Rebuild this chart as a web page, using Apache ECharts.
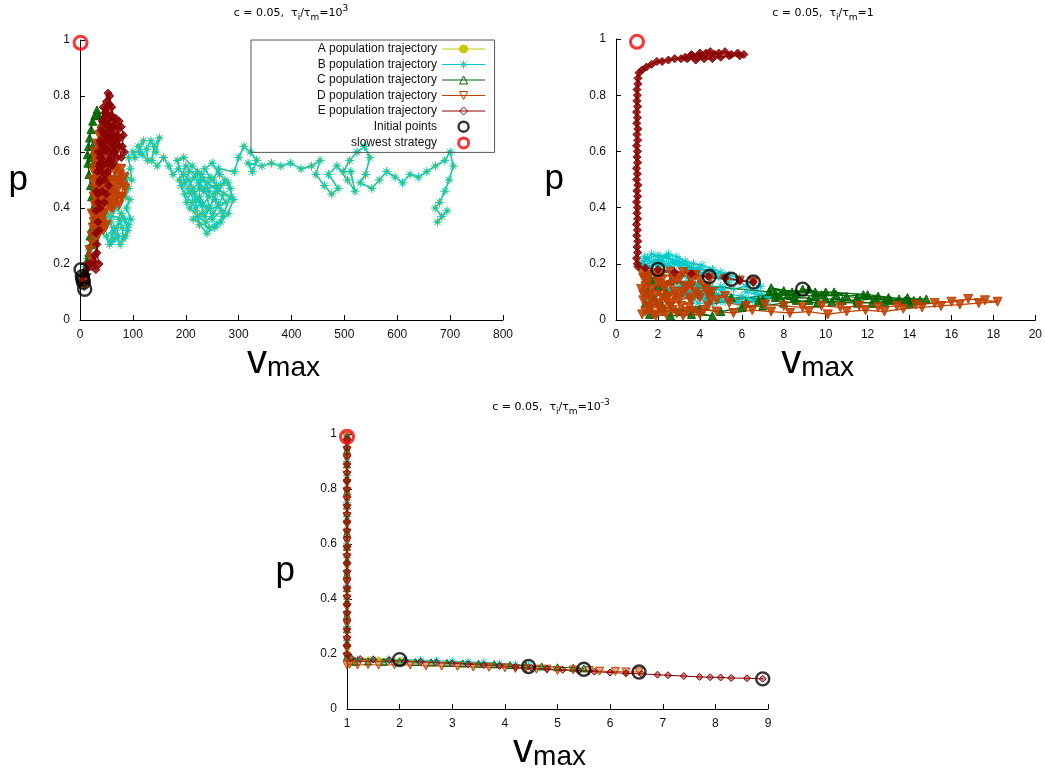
<!DOCTYPE html>
<html>
<head>
<meta charset="utf-8">
<script src="https://cdn.jsdelivr.net/npm/echarts@6.0.0/dist/echarts.min.js"></script>
<style>
html, body { margin: 0; padding: 0; background: #fff; }
#main { width: 1045px; height: 772px; }
</style>
</head>
<body>
<div id="main"></div>
<script>
// series names (legend order)
const names = ['A population trajectory', 'B population trajectory', 'C population trajectory',
  'D population trajectory', 'E population trajectory', 'Initial points', 'slowest strategy']

// shared points
const initialPts = [[2, 0.18], [4.45, 0.155], [5.5, 0.145], [6.55, 0.135], [8.9, 0.11]]
const slowestPt = [[1, 0.99]]

// panel 1 : tau_i/tau_m = 10^3
const p1B = [[6,0.17],[10,0.19],[14,0.22],[18,0.25],[22,0.27],[28,0.29],[34,0.31],[40,0.33],[46,0.36],[52,0.38],
  [58,0.35],[62,0.31],[60,0.28],[66,0.29],[72,0.3],[70,0.33],[74,0.36],[80,0.33],[82,0.29],[90,0.32],
  [84,0.36],[50,0.3],[56,0.27],[64,0.33],[76,0.27],[86,0.3],[92,0.34],[78,0.38],[68,0.4],[60,0.37],
  [96,0.36],[88,0.4],[94,0.43],[86,0.44],[92,0.47],[88,0.51],[98,0.5],[95,0.54],[92,0.58],[104,0.58],
  [100,0.6],[112,0.6],[120,0.64],[110,0.62],[118,0.59],[128,0.57],[126,0.61],[134,0.64],[144,0.6],[150,0.65],
  [140,0.62],[136,0.57],[146,0.55],[158,0.58],[168,0.55],[176,0.52],[186,0.54],[196,0.52],[206,0.5],[214,0.47],
  [224,0.49],[234,0.46],[244,0.44],[232,0.41],[220,0.43],[208,0.4],[222,0.37],[238,0.35],[252,0.38],[262,0.41],
  [272,0.45],[258,0.48],[246,0.51],[236,0.54],[250,0.56],[264,0.52],[280,0.49],[198,0.45],[212,0.42],[226,0.44],
  [240,0.4],[256,0.43],[268,0.39],[250,0.36],[236,0.47],[216,0.51],[204,0.47],[222,0.53],[242,0.49],[260,0.46],
  [276,0.42],[230,0.38],[214,0.36],[244,0.33],[258,0.34],[270,0.37],[284,0.44],[228,0.5],[200,0.55],[188,0.5],
  [192,0.48],[202,0.42],[210,0.46],[218,0.39],[228,0.42],[236,0.37],[246,0.4],[254,0.45],[266,0.48],[274,0.5],
  [284,0.47],[290,0.43],[280,0.38],[266,0.35],[254,0.33],[240,0.31],[226,0.34],[216,0.45],[226,0.47],[244,0.46],
  [230,0.52],[212,0.55],[196,0.58],[184,0.57],[198,0.49],[206,0.53],[252,0.5],[262,0.54],[292,0.53],[300,0.58],
  [310,0.62],[322,0.6],[334,0.57],[326,0.53],[318,0.56],[344,0.55],[362,0.56],[380,0.55],[398,0.56],[418,0.54],
  [438,0.55],[454,0.57],[446,0.52],[462,0.48],[476,0.45],[488,0.47],[470,0.52],[486,0.55],[506,0.5],[520,0.46],
  [512,0.53],[498,0.53],[510,0.57],[524,0.6],[538,0.62],[548,0.58],[540,0.52],[530,0.49],[552,0.47],[566,0.5],
  [580,0.53],[596,0.51],[610,0.49],[624,0.52],[640,0.51],[656,0.53],[672,0.55],[690,0.57],[700,0.6],[706,0.55],
  [698,0.5],[690,0.46],[680,0.42],[672,0.4],[684,0.37],[694,0.39],[676,0.35]]
// A moves along the same points as B in this panel (only its dots show through the stars)
const p1A = p1B
const p1C = [[5,0.15],[9,0.18],[13,0.21],[17,0.24],[21,0.27],[19,0.3],[23,0.33],[27,0.36],[25,0.4],[22,0.44],
  [20,0.48],[17,0.52],[15,0.56],[14,0.59],[16,0.62],[18,0.65],[21,0.68],[24,0.71],[28,0.73],[32,0.75],
  [36,0.73],[40,0.7],[44,0.72],[48,0.68],[42,0.64],[36,0.62],[30,0.6],[24,0.62],[20,0.58],[26,0.56]]
const p1D = [[8,0.12],[12,0.15],[16,0.19],[20,0.22],[18,0.25],[24,0.27],[22,0.3],[28,0.32],[26,0.35],[32,0.37],
  [38,0.34],[44,0.32],[50,0.34],[46,0.38],[40,0.4],[34,0.38],[28,0.41],[32,0.44],[27,0.47],[31,0.5],
  [26,0.53],[30,0.56],[27,0.6],[32,0.63],[36,0.66],[42,0.68],[46,0.65],[40,0.61],[36,0.57],[40,0.53],
  [44,0.49],[38,0.46],[44,0.43],[50,0.46],[56,0.42],[62,0.4],[68,0.43],[74,0.41],[80,0.44],[86,0.47],
  [84,0.51],[78,0.54],[72,0.5],[66,0.53],[60,0.5],[56,0.55],[50,0.58],[46,0.54],[52,0.5],[58,0.46],
  [64,0.47],[70,0.46],[76,0.49],[36,0.48],[30,0.45],[34,0.52],[38,0.6],[44,0.62],[34,0.3],[24,0.33],
  [40,0.36],[48,0.4],[30,0.34],[22,0.38],[28,0.58],[34,0.62],[40,0.66],[44,0.58],[48,0.62],[52,0.55],
  [56,0.5],[62,0.45],[66,0.5],[70,0.54],[76,0.52],[82,0.48],[78,0.44],[72,0.44],[64,0.42],[58,0.4],
  [52,0.43],[46,0.46],[40,0.44],[36,0.42],[32,0.4],[38,0.38],[42,0.35],[48,0.33],[30,0.3],[26,0.44],
  [24,0.5],[28,0.54]]
const p1E = [[4,0.14],[8,0.16],[12,0.18],[16,0.2],[22,0.19],[26,0.21],[30,0.18],[28,0.23],[32,0.27],[30,0.31],
  [34,0.35],[30,0.39],[34,0.42],[31,0.46],[36,0.49],[33,0.53],[38,0.56],[35,0.6],[40,0.63],[44,0.67],
  [42,0.71],[47,0.74],[50,0.78],[53,0.81],[56,0.77],[60,0.73],[57,0.69],[62,0.66],[58,0.62],[54,0.65],
  [50,0.7],[46,0.66],[48,0.61],[44,0.57],[40,0.53],[46,0.5],[52,0.53],[56,0.57],[62,0.6],[66,0.64],
  [64,0.69],[68,0.72],[74,0.71],[78,0.69],[82,0.66],[80,0.62],[84,0.6],[78,0.58],[74,0.62],[70,0.66],
  [66,0.6],[60,0.55],[54,0.48],[50,0.45],[46,0.42],[42,0.46],[38,0.5],[44,0.6],[50,0.64],[56,0.72],
  [52,0.76],[48,0.7],[54,0.6],[62,0.63],[70,0.58],[76,0.65],[60,0.68],[45,0.72],[38,0.58],[42,0.55],
  [48,0.52],[52,0.56],[58,0.58],[64,0.56],[68,0.62],[72,0.68],[66,0.7],[60,0.76],[56,0.8],[50,0.74],
  [44,0.76],[40,0.68],[38,0.64],[46,0.62],[52,0.67],[58,0.65],[64,0.72],[54,0.7],[48,0.66],[42,0.62],
  [36,0.55],[34,0.45],[38,0.4],[36,0.32],[32,0.24],[36,0.2]]

// panel 2 : tau_i/tau_m = 1
const p2A = [[2,0.18],[1.85,0.175],[2.15,0.17],[1.95,0.165]]
const p2B = [[4.45,0.155],[4.0,0.17],[3.5,0.19],[3.0,0.21],[2.5,0.22],[2.0,0.23],[1.5,0.22],[1.2,0.2],[1.6,0.19],[2.2,0.21],
  [2.8,0.2],[3.4,0.18],[4.0,0.185],[4.6,0.17],[5.2,0.16],[5.8,0.14],[6.2,0.12],[5.6,0.11],[5.0,0.12],[4.4,0.1],
  [3.8,0.11],[3.2,0.09],[3.6,0.075],[4.2,0.08],[5.0,0.07],[5.8,0.065],[6.5,0.07],[7.2,0.06],[6.0,0.085],[5.2,0.095],
  [4.5,0.12],[3.8,0.13],[3.0,0.12],[2.5,0.1],[2.0,0.12],[1.5,0.15],[1.8,0.2],[2.4,0.225],[3.2,0.2],[3.7,0.175],
  [4.3,0.16],[3.4,0.15],[2.6,0.19],[1.9,0.215],[1.4,0.195],[1.3,0.21],[1.7,0.235],[2.1,0.225],[2.5,0.235],[2.9,0.225],
  [3.3,0.21],[3.7,0.2],[4.1,0.195],[4.6,0.18],[5.0,0.17],[5.4,0.16],[5.9,0.15],[6.4,0.13],[6.9,0.12],[6.6,0.1],
  [7.0,0.09],[6.3,0.075],[5.5,0.08],[4.8,0.09],[4.1,0.095],[3.5,0.1],[3.9,0.06],[4.6,0.06],[1.35,0.225],[1.6,0.21],
  [2.0,0.2],[2.3,0.195],[2.7,0.21],[3.0,0.195],[3.4,0.195],[3.9,0.18],[4.4,0.175],[4.9,0.155],[5.4,0.135],[5.1,0.11],
  [4.6,0.11],[4.0,0.12],[3.4,0.095],[3.8,0.085],[4.4,0.07],[5.2,0.065],[6.0,0.06],[6.8,0.075],[7.3,0.08],[6.2,0.1]]
const p2C = [[8.9,0.11],[9.5,0.1],[8.0,0.105],[7.4,0.115],[8.2,0.09],[9.5,0.085],[10.5,0.09],[11.5,0.08],[12.5,0.085],[13.5,0.075],
  [14.8,0.075],[13.8,0.07],[12.8,0.065],[11.5,0.06],[10.3,0.065],[9.2,0.07],[8.0,0.06],[7.0,0.05],[6.0,0.045],[5.0,0.03],
  [4.0,0.04],[3.0,0.03],[2.2,0.05],[1.8,0.08],[2.4,0.1],[2.0,0.12],[2.6,0.14],[3.5,0.13],[4.5,0.1],[5.5,0.08],
  [7.0,0.075],[8.5,0.08],[10,0.075],[11.5,0.07],[13,0.08],[14.2,0.07],[12.0,0.09],[10.0,0.1],[8.4,0.1],[7.6,0.095],
  [1.6,0.02],[2.6,0.015],[3.6,0.02],[4.6,0.015],[1.4,0.06],[1.5,0.1],[1.7,0.14],[7.3,0.1],[7.8,0.085],[8.6,0.095],
  [9.2,0.11],[9.8,0.09],[10.4,0.1],[11,0.085],[11.8,0.09],[12.4,0.075],[13.1,0.07],[13.9,0.08],[14.5,0.07],[14.0,0.06],
  [12.2,0.06],[10.8,0.07],[9.6,0.06],[8.6,0.07],[7.6,0.08],[6.8,0.07],[6.2,0.06]]
const p2D = [[6.55,0.135],[5.9,0.14],[5.2,0.145],[4.5,0.15],[3.8,0.16],[3.2,0.17],[2.6,0.172],[2.1,0.165],[1.6,0.16],[1.3,0.15],
  [1.5,0.13],[1.2,0.11],[1.6,0.09],[1.3,0.07],[1.7,0.05],[1.4,0.03],[1.9,0.015],[2.4,0.02],[2.1,0.04],[2.6,0.06],
  [2.2,0.08],[2.8,0.1],[2.3,0.12],[2.9,0.14],[3.4,0.12],[3.0,0.09],[3.6,0.07],[3.1,0.05],[3.7,0.03],[3.2,0.015],
  [4.0,0.02],[4.4,0.05],[4.0,0.08],[4.6,0.1],[4.2,0.12],[3.6,0.14],[2.0,0.13],[1.7,0.11],[2.5,0.085],[1.9,0.06],
  [1.25,0.02],[1.6,0.035],[2.0,0.05],[2.4,0.07],[2.8,0.08],[3.2,0.1],[3.6,0.12],[4.0,0.14],[4.3,0.11],[3.9,0.09],
  [3.5,0.08],[3.0,0.07],[2.6,0.05],[2.2,0.03],[1.8,0.02],[1.5,0.05],[1.9,0.09],[2.3,0.11],[2.7,0.145],[3.1,0.155],
  [3.5,0.16],[1.9,0.155],[1.4,0.12],[1.3,0.09],[1.6,0.075],[2.9,0.025],[3.4,0.03],[4.2,0.035],[4.5,0.07],[1.25,0.165],
  [2.7,0.035],[3.5,0.045],[4.8,0.03],[5.6,0.025],[6.5,0.035],[7.4,0.03],[8.3,0.025],[9.2,0.03],[10.1,0.02],[11.0,0.03],
  [11.9,0.035],[12.8,0.03],[13.7,0.04],[14.6,0.045],[15.5,0.05],[16.4,0.055],[17.3,0.06],[18.2,0.065],[17.6,0.07],[16.8,0.075],
  [16.0,0.065],[15.2,0.06],[14.3,0.055],[13.4,0.05],[12.5,0.045],[11.6,0.05],[10.7,0.045],[9.8,0.05],[8.9,0.045],[8.0,0.05],
  [7.1,0.055],[6.2,0.05],[5.4,0.06],[4.8,0.07],[5.2,0.085],[4.4,0.09],[3.8,0.1],[3.3,0.11],[2.6,0.125],[2.2,0.145],[1.5,0.155]]
const p2E = [[6.55,0.135],[5.9,0.14],[5.2,0.15],[4.4,0.155],[3.6,0.165],[2.8,0.17],[2.0,0.18],[1.4,0.185],[1.05,0.19],
  [1.02,0.2],[0.98,0.22],[1.03,0.24],[1.0,0.26],[1.04,0.28],[0.99,0.3],[1.02,0.32],[0.98,0.34],[1.03,0.36],[1.0,0.38],
  [1.02,0.4],[0.98,0.42],[1.03,0.44],[1.0,0.46],[1.04,0.48],[0.99,0.5],[1.02,0.52],[0.98,0.54],[1.03,0.56],[1.0,0.58],
  [1.02,0.6],[0.98,0.62],[1.03,0.64],[1.0,0.66],[1.04,0.68],[0.99,0.7],[1.02,0.72],[0.98,0.74],[1.03,0.76],[1.0,0.78],
  [1.02,0.8],[1.0,0.82],[1.04,0.84],[1.05,0.86],[1.1,0.88],[1.25,0.89],[1.45,0.9],[1.7,0.91],[1.95,0.92],[2.2,0.92],
  [2.5,0.925],[2.8,0.93],[3.1,0.93],[3.3,0.935],[3.6,0.94],[3.9,0.935],[4.1,0.94],[4.3,0.95],[4.5,0.955],[4.7,0.945],
  [4.9,0.95],[5.2,0.955],[5.5,0.945],[5.8,0.95],[6.1,0.945],[5.9,0.94],[5.4,0.94],[5.0,0.935],[4.6,0.93],[4.2,0.93],
  [3.8,0.925],[3.4,0.93],[3.6,0.945],[4.0,0.95],[4.4,0.94]]

// panel 3 : tau_i/tau_m = 10^-3
const p3A = [[2.0,0.18],[1.8,0.181],[1.6,0.182],[1.4,0.182],[1.2,0.181],[1.05,0.18],[1.0,0.22],[1.0,0.3],[1.0,0.4],
  [1.0,0.5],[1.0,0.6],[1.0,0.7],[1.0,0.8],[1.0,0.9],[1.0,0.98]]
const p3B = [[4.45,0.158],[4.2,0.162],[3.9,0.166],[3.6,0.17],[3.3,0.172],[3.0,0.174],[2.7,0.176],[2.4,0.178],[2.1,0.18],
  [1.8,0.181],[1.5,0.181],[1.2,0.18],[1.0,0.2],[1.0,0.25],[1.0,0.3],[1.0,0.35],[1.0,0.4],[1.0,0.45],[1.0,0.5],
  [1.0,0.55],[1.0,0.6],[1.0,0.65],[1.0,0.7],[1.0,0.75],[1.0,0.8],[1.0,0.85],[1.0,0.9],[1.0,0.95],[1.0,0.99]]
const p3C = [[5.5,0.148],[5.3,0.15],[5.0,0.152],[4.7,0.155],[4.4,0.158],[4.1,0.16],[3.8,0.163],[3.5,0.165],[3.2,0.166],
  [2.9,0.168],[2.6,0.17],[2.3,0.171],[2.0,0.172],[1.7,0.172],[1.4,0.173],[1.15,0.172],[1.0,0.19],[1.0,0.24],[1.0,0.29],
  [1.0,0.34],[1.0,0.39],[1.0,0.44],[1.0,0.49],[1.0,0.54],[1.0,0.59],[1.0,0.64],[1.0,0.69],[1.0,0.74],[1.0,0.79],
  [1.0,0.84],[1.0,0.89],[1.0,0.94],[1.0,0.99]]
const p3D = [[6.55,0.135],[6.3,0.135],[6.1,0.137],[5.8,0.138],[5.6,0.14],[5.3,0.142],[5.0,0.14],[4.8,0.145],[4.6,0.145],
  [4.4,0.148],[4.2,0.148],[4.0,0.15],[3.7,0.152],[3.4,0.153],[3.1,0.155],[2.8,0.156],[2.5,0.157],[2.2,0.16],[1.9,0.161],
  [1.6,0.16],[1.4,0.162],[1.2,0.16],[1.05,0.163],[1.0,0.16],[1.0,0.19],[1.0,0.22],[1.0,0.25],[1.0,0.28],[1.0,0.31],
  [1.0,0.34],[1.0,0.37],[1.0,0.4],[1.0,0.43],[1.0,0.46],[1.0,0.49],[1.0,0.52],[1.0,0.55],[1.0,0.58],[1.0,0.61],
  [1.0,0.64],[1.0,0.67],[1.0,0.7],[1.0,0.73],[1.0,0.76],[1.0,0.79],[1.0,0.82],[1.0,0.85],[1.0,0.88],[1.0,0.91],
  [1.0,0.94],[1.0,0.97],[1.0,0.99]]
const p3E = [[8.9,0.11],[8.6,0.112],[8.3,0.113],[8.1,0.115],[7.9,0.116],[7.7,0.117],[7.4,0.12],[7.1,0.123],[6.9,0.125],
  [6.6,0.128],[6.3,0.13],[6.0,0.133],[5.7,0.136],[5.4,0.14],[5.1,0.143],[4.8,0.146],[4.5,0.15],[4.2,0.153],[3.9,0.157],
  [3.6,0.16],[3.3,0.163],[3.0,0.166],[2.7,0.169],[2.4,0.172],[2.1,0.175],[1.8,0.178],[1.5,0.18],[1.25,0.182],[1.08,0.185],
  [1.0,0.2],[1.0,0.23],[1.0,0.26],[1.0,0.29],[1.0,0.32],[1.0,0.35],[1.0,0.38],[1.0,0.41],[1.0,0.44],[1.0,0.47],
  [1.0,0.5],[1.0,0.53],[1.0,0.56],[1.0,0.59],[1.0,0.62],[1.0,0.65],[1.0,0.68],[1.0,0.71],[1.0,0.74],[1.0,0.77],
  [1.0,0.8],[1.0,0.83],[1.0,0.86],[1.0,0.89],[1.0,0.92],[1.0,0.95],[1.0,0.98]]

const panels = [
  { A: p1A, B: p1B, C: p1C, D: p1D, E: p1E, xmin: 0, xmax: 800, xstep: 100, pre: '=10', sup: '3', dense: true },
  { A: p2A, B: p2B, C: p2C, D: p2D, E: p2E, xmin: 0, xmax: 20, xstep: 2, pre: '=1', sup: '', dense: true },
  { A: p3A, B: p3B, C: p3C, D: p3D, E: p3E, xmin: 1, xmax: 9, xstep: 1, pre: '=10', sup: '-3', dense: false }
]

const FONT = 'Liberation Sans'
const asterisk = 'path://M5,0L5,10M0,5L10,5M1.5,1.5L8.5,8.5M8.5,1.5L1.5,8.5'
// rgb of each trajectory, symbol, size
const look = {
  A: { rgb: '200,200,0', symbol: 'circle', size: 4, solid: true },
  B: { rgb: '0,200,200', symbol: asterisk, size: 8, hollow: true },
  C: { rgb: '0,100,0', symbol: 'triangle', size: 7 },
  D: { rgb: '192,64,0', symbol: 'triangle', size: 8, rotate: 180 },
  E: { rgb: '139,0,0', symbol: 'diamond', size: 7 }
}

const grids = [
  { left: 80, top: 40, width: 423, height: 280 },
  { left: 616, top: 39, width: 421, height: 281 },
  { left: 347, top: 434, width: 421, height: 282 }
]

const labelStyle = { color: '#111', fontSize: 12, fontFamily: FONT }

const xAxes = panels.map((p, i) => ({
  gridIndex: i, type: 'value', min: p.xmin, max: p.xmax, interval: p.xstep,
  axisLine: { onZero: false, lineStyle: { color: '#000', width: 1 } },
  axisTick: { inside: true, length: 5, lineStyle: { color: '#000' } },
  axisLabel: Object.assign({ margin: 9 }, labelStyle),
  splitLine: { show: false },
  name: '{v|v}{s|max}', nameLocation: 'middle', nameGap: 7,
  nameTextStyle: {
    padding: [0, 16, 0, 0],
    rich: {
      v: { fontSize: 40, fontFamily: FONT, color: '#000', lineHeight: 40, verticalAlign: 'middle' },
      s: { fontSize: 28, fontFamily: FONT, color: '#000', lineHeight: 26, verticalAlign: 'bottom' }
    }
  }
}))

const yAxes = panels.map((p, i) => ({
  gridIndex: i, type: 'value', min: 0, max: 1, interval: 0.2,
  axisLine: { onZero: false, lineStyle: { color: '#000', width: 1 } },
  axisTick: { inside: true, length: 5, lineStyle: { color: '#000' } },
  axisLabel: Object.assign({ margin: 10 }, labelStyle),
  splitLine: { show: false },
  name: 'p', nameLocation: 'middle', nameRotate: 0, nameGap: 52,
  nameTextStyle: { fontSize: 35, fontFamily: FONT, color: '#000', padding: [0, 0, 8, 0] }
}))

const series = []
panels.forEach((p, i) => {
  ['A', 'B', 'C', 'D', 'E'].forEach((k, j) => {
    const s = look[k]
    const alpha = s.solid ? 1 : s.hollow ? 0 : (p.dense ? 0.85 : 0.45)
    series.push({
      type: 'line', name: names[j], xAxisIndex: i, yAxisIndex: i, data: p[k],
      symbol: s.symbol, symbolSize: p.dense && !s.solid ? s.size + 1 : s.size, symbolRotate: s.rotate || 0,
      showAllSymbol: true, clip: false, animation: false,
      lineStyle: { color: 'rgb(' + s.rgb + ')', width: p.dense ? 1.3 : 1 },
      itemStyle: { color: 'rgba(' + s.rgb + ',' + alpha + ')', borderColor: 'rgb(' + s.rgb + ')', borderWidth: 1 },
      emphasis: { disabled: true }
    })
  })
  // marker circles sit above all trajectories
  series.push({
    type: 'scatter', name: names[5], xAxisIndex: i, yAxisIndex: i, data: initialPts, z: 10,
    symbol: 'circle', symbolSize: 13, clip: false, animation: false,
    itemStyle: { color: 'rgba(0,0,0,0)', borderColor: '#000', borderWidth: 2.4 },
    emphasis: { disabled: true }
  })
  series.push({
    type: 'scatter', name: names[6], xAxisIndex: i, yAxisIndex: i, data: slowestPt, z: 10,
    symbol: 'circle', symbolSize: 13, clip: false, animation: false,
    itemStyle: { color: 'rgba(0,0,0,0)', borderColor: '#f00', borderWidth: 3 },
    emphasis: { disabled: true }
  })
})

const titleRich = {
  a: { fontSize: 11, fontFamily: 'DejaVu Sans', color: '#000', lineHeight: 18, verticalAlign: 'middle' },
  b: { fontSize: 9, fontFamily: 'DejaVu Sans', color: '#000', lineHeight: 8, verticalAlign: 'bottom' },
  c: { fontSize: 9, fontFamily: 'DejaVu Sans', color: '#000', lineHeight: 8, verticalAlign: 'top' }
}
const titlePos = [[291, 13], [823, 13], [551, 407]]
const graphic = panels.map((p, i) => ({
  type: 'text', x: titlePos[i][0], y: titlePos[i][1],
  style: {
    text: '{a|c = 0.05,  τ}{b|i}{a|/τ}{b|m}{a|' + p.pre + '}' + (p.sup ? '{c|' + p.sup + '}' : ''),
    rich: titleRich, align: 'center', verticalAlign: 'middle', textAlign: 'center', textVerticalAlign: 'middle'
  }
}))

// legend icons are drawn open, as in the original key
const legendData = names.map((n, j) => {
  if (j === 5) return { name: n, itemStyle: { borderWidth: 2.4 } }
  if (j === 6) return { name: n, itemStyle: { borderWidth: 3 } }
  if (j === 0) return { name: n }
  return { name: n, itemStyle: { color: 'rgba(0,0,0,0)' } }
})

const chart = echarts.init(document.getElementById('main'))
chart.setOption({
  backgroundColor: '#fff',
  animation: false,
  grid: grids,
  xAxis: xAxes,
  yAxis: yAxes,
  legend: {
    left: 251, top: 40, orient: 'vertical', align: 'right',
    itemWidth: 43, itemHeight: 10, itemGap: 3.5,
    padding: [3, 9, 3, 66], borderColor: '#555', borderWidth: 1,
    itemStyle: { borderWidth: 1 },
    lineStyle: { width: 1 },
    textStyle: { fontSize: 12, fontFamily: FONT, color: '#111' },
    selectedMode: false,
    data: legendData
  },
  graphic: graphic,
  series: series
})
</script>
</body>
</html>
